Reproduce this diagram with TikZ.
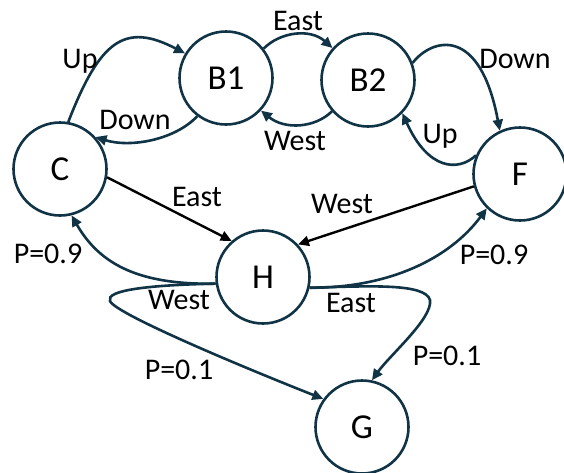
\documentclass[tikz,border=0pt]{standalone}
\usepackage{fontspec}
\setmainfont{Carlito}
\usetikzlibrary{arrows.meta}
\definecolor{teal1}{RGB}{16,52,70}
\tikzset{
  state/.style={circle, draw=teal1, line width=2.6pt, minimum size=93pt, inner sep=0pt, font=\fontsize{35}{40}\selectfont},
  edge/.style={draw=teal1, line width=2.6pt, -{Triangle[length=11pt,width=10pt]}},
  bedge/.style={draw=black, line width=2.4pt, -{Triangle[length=11pt,width=10pt]}},
  lbl/.style={anchor=base, inner sep=0pt, font=\fontsize{30}{34}\selectfont}
}
\begin{document}
\begin{tikzpicture}[x=1pt,y=-1pt]
\useasboundingbox (0,0) rectangle (564,472);
\node[state] (B1) at (226,78) {B1};
\node[state] (B2) at (368,80) {B2};
\node[state] (C) at (60,169) {C};
\node[state] (F) at (520,174) {F};
\node[state] (H) at (263,277) {H};
\node[state] (G) at (362,427) {G};
% top edges
\draw[edge] (C.80) .. controls (100,40) and (125,22) .. (B1.149);
\draw[edge] (B1.233) .. controls (175,140) and (130,148) .. (C.42);
\draw[edge] (B1.38) .. controls (280,32) and (310,28) .. (B2.138);
\draw[edge] (B2.221) .. controls (315,128) and (285,130) .. (B1.317);
\draw[edge] (B2.21) .. controls (432,38) and (480,25) .. (F.115);
\draw[edge] (F.157) .. controls (458,172) and (428,170) .. (B2.316);
% straight black
\draw[bedge] (C.-10) -- (H.131);
\draw[bedge] (F.195) -- (H.43);
% from H
\draw[edge] (H.188) .. controls (140,285) and (100,265) .. (C.284);
\draw[edge] (H.188) .. controls (150,285) and (105,290) .. (110,301) .. controls (115,314) and (250,370) .. (G.144);
\draw[edge] (H.347) .. controls (390,288) and (450,258) .. (F.226);
\draw[edge] (H.347) .. controls (370,286) and (425,283) .. (430,300) .. controls (433,318) and (390,355) .. (G.78);
% labels
\node[lbl] (lUp1) at (80,68) {Up};
\node[lbl] (lDown1) at (135,129) {Down};
\node[lbl] (lEast1) at (298,30) {East};
\node[lbl] (lWest1) at (295,150) {West};
\node[lbl] (lDown2) at (515,68) {Down};
\node[lbl] (lUp2) at (440,143) {Up};
\node[lbl] (lEast2) at (197,206) {East};
\node[lbl] (lWest2) at (342,213) {West};
\node[lbl] (lP1) at (48,263) {P=0.9};
\node[lbl] (lWest3) at (179,309) {West};
\node[lbl] (lP2) at (179,379) {P=0.1};
\node[lbl] (lP3) at (494,264) {P=0.9};
\node[lbl] (lEast3) at (351,312) {East};
\node[lbl] (lP4) at (447,365) {P=0.1};
\end{tikzpicture}
\end{document}
